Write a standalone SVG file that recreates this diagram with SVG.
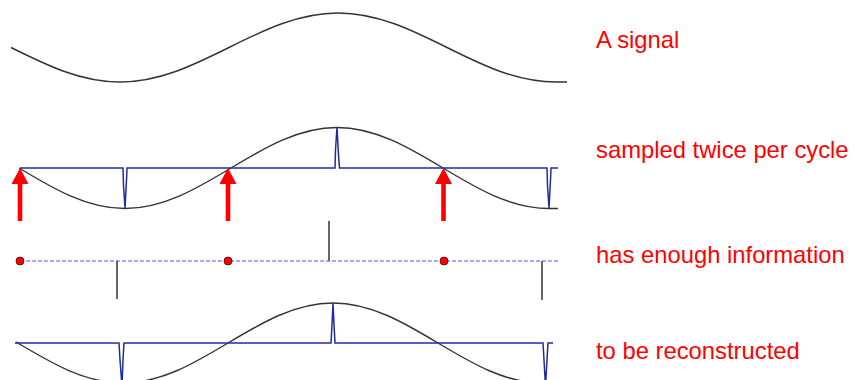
<svg xmlns="http://www.w3.org/2000/svg" width="855" height="380" viewBox="0 0 855 380">
<style>
.sig{fill:none;stroke:#333;stroke-width:1.4}
.rec{fill:none;stroke:#1f2d9c;stroke-width:1.5;stroke-linejoin:miter}
.lbl{font-family:"Liberation Sans",Arial,sans-serif;font-size:23.8px;fill:#ff0000}
.arr{fill:#ff0000}
.dot{fill:#ff0000;stroke:#5a0000;stroke-width:0.8}
.stem{stroke:#333;stroke-width:1.5}
</style>
<rect width="855" height="380" fill="#ffffff"/>
<g id="row1">
<path class="sig" d="M11,47.5 C45.7,64.75 80.4,82 120,82 C199.2,82 258.8,13 338,13 C417.2,13 476.8,82 556,82 L567,82"/>
<text class="lbl" x="596" y="48">A signal</text>
</g>
<g id="row2">
<path class="sig" d="M19,168 C52.75,188.25 86.5,208.5 125,208.5 C202,208.5 260,127.5 337,127.5 C414,127.5 472,208.5 549,208.5 L558,208.5"/>
<path class="rec" d="M20,168 H123 L123.5,185 L125,208 L126.5,180 L127,168 H335 L335.5,150 L337,127 L338.5,155 L339.5,168 H547 L547.5,185 L549,208 L550.5,180 L551,168 H558"/>
<g id="arrows">
<path class="arr" d="M20,168 L28.5,184 L22.3,184 L22.3,221 L17.7,221 L17.7,184 L11.5,184 Z"/>
<path class="arr" d="M228,168 L236.5,184 L230.3,184 L230.3,221 L225.7,221 L225.7,184 L219.5,184 Z"/>
<path class="arr" d="M443.5,168 L452,184 L445.8,184 L445.8,221 L441.2,221 L441.2,184 L435,184 Z"/>
</g>
<text class="lbl" x="596" y="158">sampled twice per cycle</text>
</g>
<g id="row3">
<line x1="20" y1="261" x2="558" y2="261" stroke="#8a8aee" stroke-width="1.3" stroke-dasharray="4,2"/>
<line class="stem" x1="117" y1="261" x2="117" y2="299"/>
<line class="stem" x1="329" y1="221" x2="329" y2="261"/>
<line class="stem" x1="542" y1="261" x2="542" y2="300"/>
<circle class="dot" cx="20" cy="261" r="4"/>
<circle class="dot" cx="228" cy="261" r="4"/>
<circle class="dot" cx="444" cy="261" r="4"/>
<text class="lbl" x="596" y="263">has enough information</text>
</g>
<g id="row4">
<path class="sig" d="M16,342 C51.4,363 84.8,383 123,383 C199.3,383 256.7,303 333,303 C409.3,303 466.7,383 543,383 L560,383"/>
<path class="rec" d="M15,343 H119 L120,360 L122,386 L123,360 L124,343 H331 L332,325 L333,303 L334,325 L335,343 H543 L544,360 L545.5,386 L547,360 L548,343 H553"/>
<text class="lbl" x="596" y="359">to be reconstructed</text>
</g>
</svg>
